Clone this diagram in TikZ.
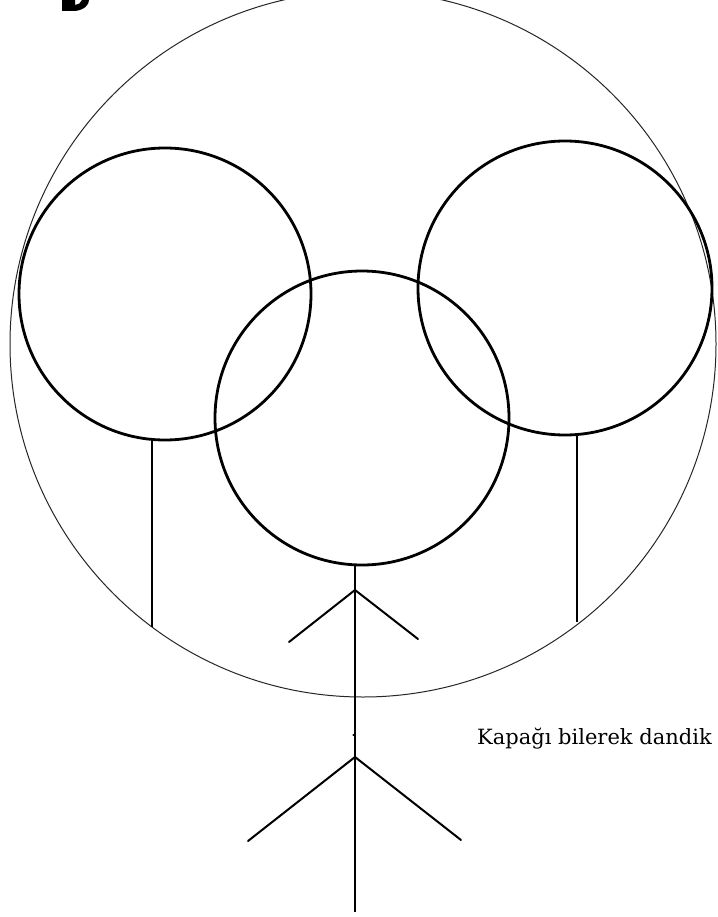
\documentclass[tikz,border=0pt]{standalone}
\usepackage{fontspec}
\newfontfamily\labelfont{DejaVu Serif}
\begin{document}
\begin{tikzpicture}[x=1pt,y=-1pt,
  thin line/.style={line width=1pt,black!85},
  bold line/.style={line width=2.8pt,black},
  stick/.style={line width=2.4pt,black},
  limb/.style={line width=2pt,black,line cap=round}]
\useasboundingbox (0,0) rectangle (717,917);
\fill[white] (0,0) rectangle (717,917);
% outer thin circle
\begin{scope}
\clip (0,0) rectangle (717,917);
\draw[thin line] (363,344) circle[radius=353];
\end{scope}
% three bold circles
\draw[bold line] (165,294) circle[radius=146];
\draw[bold line] (362,418) circle[radius=147];
\draw[bold line] (565,288) circle[radius=147];
% sticks under side circles
\draw[stick] (152,441) -- (152,627);
\draw[stick] (577,435) -- (577,622);
% central figure
\coordinate (top) at (355,565);
\coordinate (bottom) at (355,912);
\coordinate (a1) at (355,590);
\coordinate (a2) at (355,757);
\draw[stick] (top) -- (bottom);
\draw[limb] (a1) -- (289,642);
\draw[limb] (a1) -- (418,639);
\draw[limb] (a2) -- (248,841);
\draw[limb] (a2) -- (461,840);
\fill (353.5,735) circle[radius=1.2];
% partial glyph at top-left
\fill (62,0) -- (62,11) -- (75,11) .. controls (84,10) and (89,5) .. (89,0) -- (82,0) .. controls (81,3) and (78,5) .. (75,5) -- (75,0) -- cycle;
% label
\node[anchor=base west,inner sep=0pt,font=\labelfont\fontsize{21}{24}\selectfont] (lbl) at (477,744) {Kapağı bilerek dandik};
\end{tikzpicture}
\end{document}
